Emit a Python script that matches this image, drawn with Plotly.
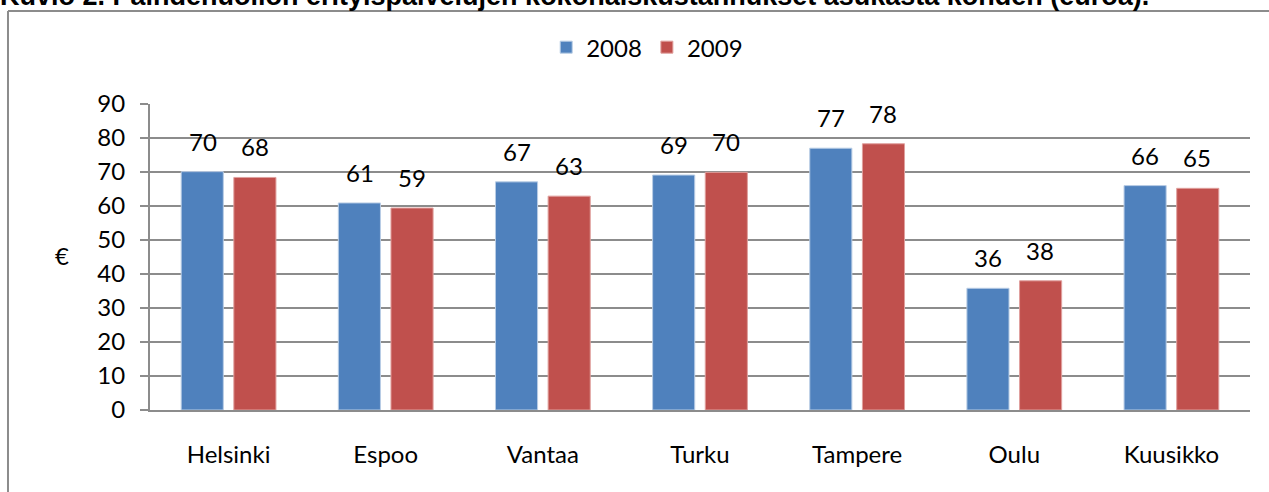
import plotly.graph_objects as go

# Data
cities = ["Helsinki", "Espoo", "Vantaa", "Turku", "Tampere", "Oulu", "Kuusikko"]
costs_2008 = [70.1, 60.9, 67.1, 69.1, 77.0, 35.8, 66.0]
costs_2009 = [68.4, 59.4, 62.9, 69.9, 78.3, 38.0, 65.2]
series_names = ["2008", "2009"]
y_ticks = [0, 10, 20, 30, 40, 50, 60, 70, 80, 90]
title_text = "Kuvio 2. Päihdehuollon erityispalvelujen kokonaiskustannukset asukasta kohden (euroa)."

BLUE = "#4F81BD"
RED = "#C0504D"
GRID = "#8c8c8c"
FONT = "Lato"
FSIZE = 24

fig = go.Figure()

fig.add_trace(go.Bar(
    x=cities, y=costs_2008, name=series_names[0],
    marker=dict(color=BLUE, line=dict(color="#b9cde5", width=1)),
    hoverinfo="x+y"
))
fig.add_trace(go.Bar(
    x=cities, y=costs_2009, name=series_names[1],
    marker=dict(color=RED, line=dict(color="#e0a09e", width=1)),
    hoverinfo="x+y"
))

# Arvolaput palkkien yläpuolelle
annotations = []
for vals, shift in ((costs_2008, -26), (costs_2009, 26)):
    for c, v in zip(cities, vals):
        annotations.append(dict(
            x=c, y=v, xref="x", yref="y", xshift=shift, yshift=14,
            text=f"{v:.0f}", showarrow=False, yanchor="bottom",
            font=dict(family=FONT, size=FSIZE, color="black")
        ))

# Euro-merkki y-akselin vieressä
annotations.append(dict(
    x=-0.0882, y=0.5065, xref="paper", yref="paper", text="€",
    showarrow=False, font=dict(family=FONT, size=FSIZE, color="black")
))

# Leikkautunut otsikko sivun yläreunassa
annotations.append(dict(
    x=-0.1382, y=1.2974, xref="paper", yref="paper", text="<b>" + title_text + "</b>",
    showarrow=False, xanchor="left", yanchor="bottom",
    font=dict(family="Liberation Sans, Arial", size=27, color="black")
))

fig.update_layout(
    width=1269, height=492,
    margin=dict(l=150, r=19, t=104, b=82),
    paper_bgcolor="white",
    plot_bgcolor="white",
    font=dict(family=FONT, size=FSIZE, color="black"),
    barmode="group",
    bargap=0.33,
    bargroupgap=0.2,
    showlegend=True,
    legend=dict(
        orientation="h", x=0.452, xanchor="center", y=1.258, yanchor="top",
        font=dict(family=FONT, size=FSIZE, color="black"),
        itemwidth=30, tracegroupgap=0
    ),
    xaxis=dict(
        showgrid=False, showline=True, linecolor=GRID, linewidth=2,
        ticks="", ticklabelstandoff=22, tickfont=dict(size=FSIZE)
    ),
    yaxis=dict(
        range=[0, 90], tickvals=y_ticks, showgrid=True, gridcolor=GRID, gridwidth=2,
        showline=True, linecolor=GRID, linewidth=2,
        ticks="outside", ticklen=8, tickcolor=GRID, tickwidth=2,
        ticklabelstandoff=10, zeroline=False, tickfont=dict(size=FSIZE)
    ),
    annotations=annotations,
    shapes=[
        # Kehys
        dict(type="line", xref="paper", yref="paper", x0=-0.1291, x1=1.2,
             y0=1.3039, y1=1.3039, line=dict(color=GRID, width=2)),
        dict(type="line", xref="paper", yref="paper", x0=-0.1291, x1=-0.1291,
             y0=-0.5, y1=1.3039, line=dict(color=GRID, width=2)),
    ]
)

fig.write_html(
    "out.html",
    config={"displayModeBar": False},
    post_script="document.body.style.margin='0';"
)
